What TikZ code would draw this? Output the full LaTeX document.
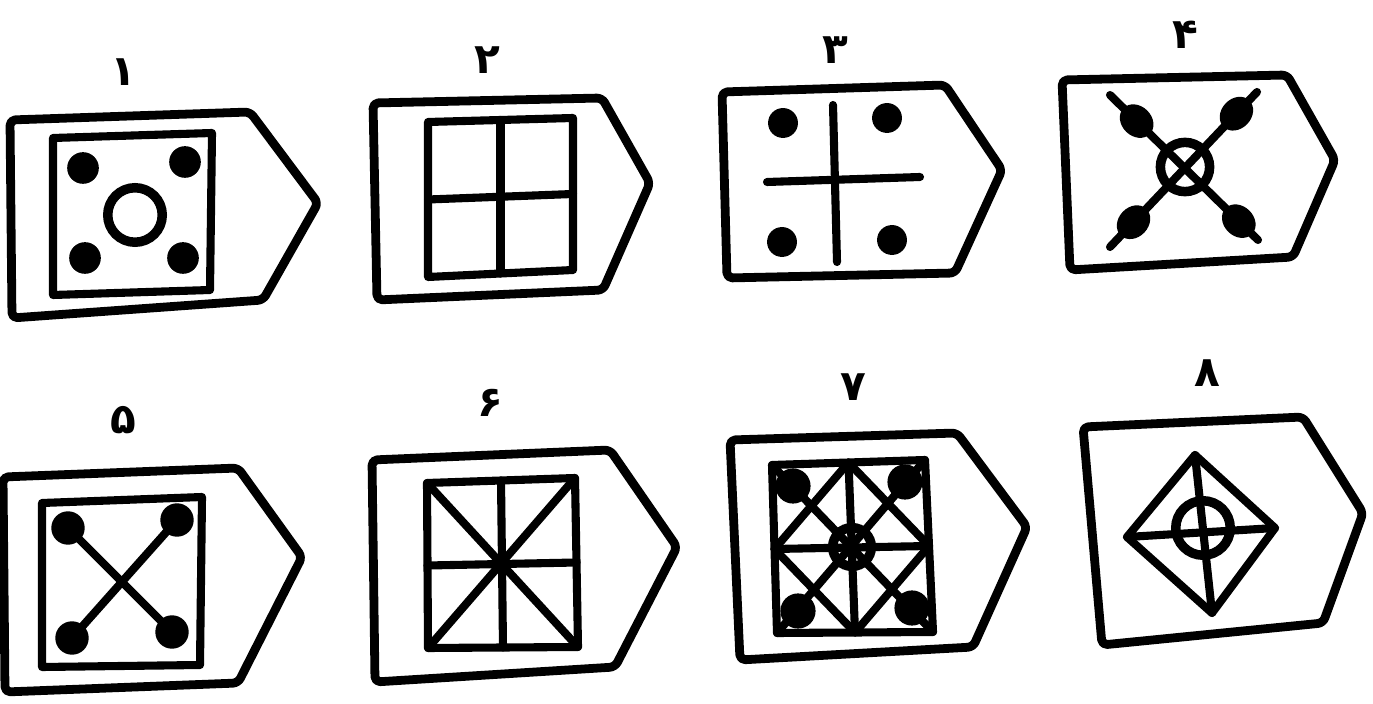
\documentclass[tikz,border=0pt]{standalone}
\usepackage{fontspec}
\newfontfamily\farsifont[Script=Arabic]{DejaVu Sans}
\usetikzlibrary{calc,shapes.geometric}

\begin{document}
\begin{tikzpicture}[x=0.01cm,y=-0.01cm,
every node/.style={inner sep=0pt,outer sep=0pt},
tagline/.style={line width=2.5pt,line join=round,rounded corners=1.5pt},
inline/.style={line width=2.3pt,line join=round,line cap=round},
dot/.style={circle,fill=black,minimum size=9pt},
blob/.style={ellipse,fill=black,minimum width=10.5pt,minimum height=8.5pt},
ring/.style={circle,draw,line width=2.7pt,minimum size=15.5pt},
numlabel/.style={font=\farsifont\bfseries\fontsize{12}{12}\selectfont}]
\useasboundingbox (0,0) rectangle (1373,704);

% labels
\node[numlabel] (n1) at (123,72) {۱};
\node[numlabel] (n2) at (487,60) {۲};
\node[numlabel] (n3) at (835,50) {۳};
\node[numlabel] (n4) at (1185,35) {۴};
\node[numlabel] (n5) at (123,420) {۵};
\node[numlabel] (n6) at (490,403) {۶};
\node[numlabel] (n7) at (853,387) {۷};
\node[numlabel] (n8) at (1207,373) {۸};

% 1
\draw[tagline] (10,120) -- (250,112) -- (318,203) -- (263,300) -- (12,318) -- cycle;
\draw[inline] (53,138) -- (212,133) -- (210,290) -- (53,295) -- cycle;
\node[dot] (d1a) at (83,168) {};
\node[dot] (d1b) at (185,162) {};
\node[dot] (d1c) at (85,258) {};
\node[dot] (d1d) at (183,258) {};
\node[ring] (c1) at (135,215) {};

% 2
\draw[tagline] (373,103) -- (602,98) -- (650,183) -- (603,290) -- (377,300) -- cycle;
\coordinate (s2a) at (428,122);
\coordinate (s2b) at (573,118);
\coordinate (s2c) at (573,270);
\coordinate (s2d) at (428,277);
\draw[inline] (s2a) -- (s2b) -- (s2c) -- (s2d) -- cycle;
\draw[inline] ($(s2a)!.5!(s2b)$) -- ($(s2d)!.5!(s2c)$);
\draw[inline] ($(s2a)!.5!(s2d)$) -- ($(s2b)!.5!(s2c)$);

% 3
\draw[tagline] (722,92) -- (945,85) -- (1002,170) -- (955,273) -- (727,278) -- cycle;
\coordinate (v3a) at (833,105);
\coordinate (v3b) at (837,262);
\coordinate (h3a) at (767,182);
\coordinate (h3b) at (920,177);
\draw[inline] (v3a) -- (v3b);
\draw[inline] (h3a) -- (h3b);
\node[dot,minimum size=8.5pt] (d3a) at (783,123) {};
\node[dot,minimum size=8.5pt] (d3b) at (887,118) {};
\node[dot,minimum size=8.5pt] (d3c) at (782,242) {};
\node[dot,minimum size=8.5pt] (d3d) at (892,240) {};

% 4
\draw[tagline] (1062,80) -- (1287,75) -- (1335,160) -- (1293,257) -- (1070,270) -- cycle;
\coordinate (x4a) at (1110,95);
\coordinate (x4b) at (1257,92);
\coordinate (x4c) at (1258,240);
\coordinate (x4d) at (1110,247);
\draw[inline] (x4a) -- node[pos=.18,blob,sloped] (b4a) {} node[pos=.87,blob,sloped] (b4c) {} (x4c);
\draw[inline] (x4b) -- node[pos=.14,blob,sloped] (b4b) {} node[pos=.84,blob,sloped] (b4d) {} (x4d);
\node[ring,minimum size=14pt] (c4) at (1185,167) {};

% 5
\draw[tagline] (3,477) -- (238,468) -- (302,557) -- (238,683) -- (5,692) -- cycle;
\draw[inline] (42,503) -- (202,497) -- (200,665) -- (42,667) -- cycle;
\node[dot,minimum size=9.5pt] (d5a) at (68,528) {};
\node[dot,minimum size=9.5pt] (d5b) at (177,520) {};
\node[dot,minimum size=9.5pt] (d5c) at (72,638) {};
\node[dot,minimum size=9.5pt] (d5d) at (172,632) {};
\draw[inline] (d5a.center) -- (d5d.center);
\draw[inline] (d5b.center) -- (d5c.center);

% 6
\draw[tagline] (372,460) -- (610,450) -- (677,547) -- (615,667) -- (375,682) -- cycle;
\coordinate (s6a) at (427,483);
\coordinate (s6b) at (575,478);
\coordinate (s6c) at (578,647);
\coordinate (s6d) at (428,648);
\draw[inline] (s6a) -- (s6b) -- (s6c) -- (s6d) -- cycle;
\draw[inline] (s6a) -- (s6c);
\draw[inline] (s6b) -- (s6d);
\draw[inline] ($(s6a)!.5!(s6b)$) -- ($(s6d)!.5!(s6c)$);
\draw[inline] ($(s6a)!.5!(s6d)$) -- ($(s6b)!.5!(s6c)$);

% 7
\draw[tagline] (730,440) -- (957,433) -- (1027,527) -- (973,647) -- (740,660) -- cycle;
\coordinate (s7a) at (772,465);
\coordinate (s7b) at (925,460);
\coordinate (s7c) at (933,632);
\coordinate (s7d) at (777,633);
\coordinate (m7t) at ($(s7a)!.5!(s7b)$);
\coordinate (m7r) at ($(s7b)!.5!(s7c)$);
\coordinate (m7b) at ($(s7d)!.5!(s7c)$);
\coordinate (m7l) at ($(s7a)!.5!(s7d)$);
\draw[inline] (s7a) -- (s7b) -- (s7c) -- (s7d) -- cycle;
\draw[inline] (s7a) -- (s7c);
\draw[inline] (s7b) -- (s7d);
\draw[inline] (m7t) -- (m7b);
\draw[inline] (m7l) -- (m7r);
\draw[inline] (m7t) -- (m7r) -- (m7b) -- (m7l) -- cycle;
\node[dot,minimum size=10pt] (d7a) at (793,486) {};
\node[dot,minimum size=10pt] (d7b) at (905,482) {};
\node[dot,minimum size=10pt] (d7c) at (798,611) {};
\node[dot,minimum size=10pt] (d7d) at (912,608) {};
\node[ring,minimum size=11pt] (c7) at (852,547) {};

% 8
\draw[tagline] (1083,427) -- (1303,417) -- (1363,513) -- (1323,623) -- (1102,645) -- cycle;
\coordinate (k8t) at (1195,455);
\coordinate (k8r) at (1275,528);
\coordinate (k8b) at (1212,613);
\coordinate (k8l) at (1127,537);
\draw[inline] (k8t) -- (k8r) -- (k8b) -- (k8l) -- cycle;
\draw[inline] (k8l) -- (k8r);
\draw[inline] (k8t) -- (k8b);
\node[ring] (c8) at (1203,528) {};

\end{tikzpicture}
\end{document}
